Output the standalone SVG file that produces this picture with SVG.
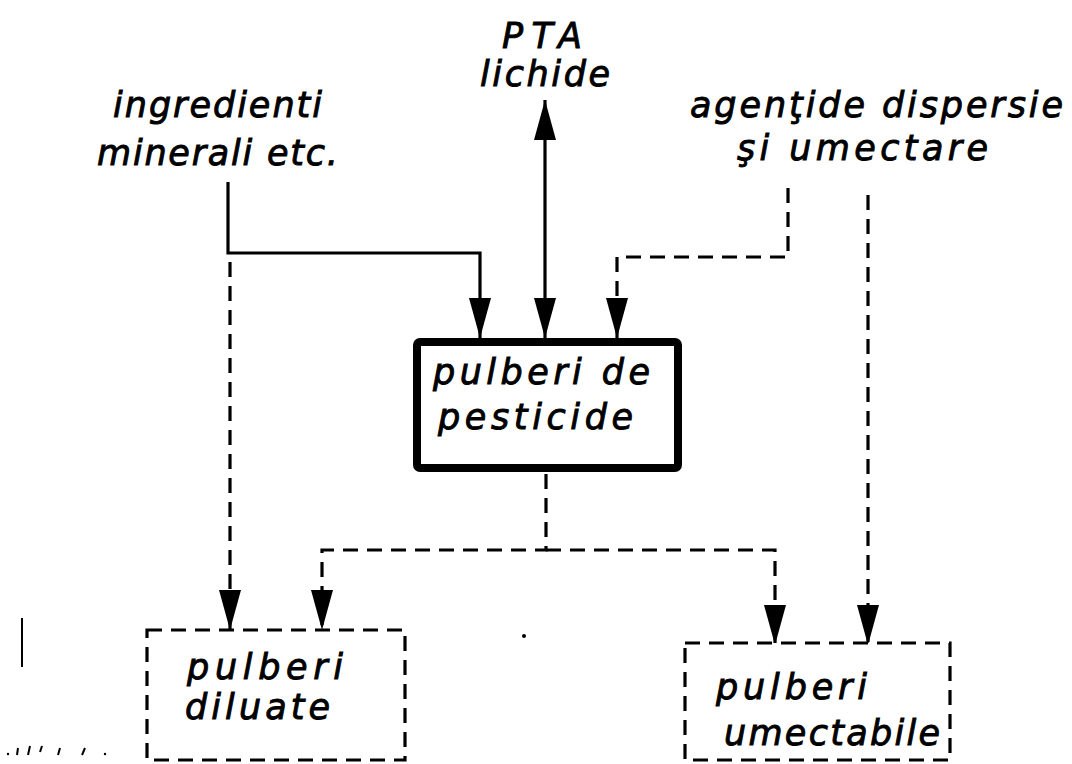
<svg xmlns="http://www.w3.org/2000/svg" width="1072" height="764" viewBox="0 0 1072 764">
<style>
text{font-family:"DejaVu Sans","Liberation Sans",sans-serif;font-style:italic;font-size:35px;fill:#000;stroke:#000;stroke-width:0.9}
.c{fill:none;stroke:#000;stroke-width:3.2;stroke-linejoin:miter}
.d{stroke-dasharray:15 9}
.box{fill:#fff;stroke:#000}
</style>
<defs>
<marker id="ah" markerUnits="userSpaceOnUse" markerWidth="42" markerHeight="24" refX="40" refY="12" orient="auto-start-reverse" viewBox="0 0 42 24">
<path d="M0,1 L40,12 L0,23 Z" fill="#000"/>
</marker>
</defs>
<rect width="1072" height="764" fill="#fff"/>
<g id="connectors">
<path class="c" d="M228,182 V253 H480 V338" marker-end="url(#ah)"/>
<path class="c" d="M545,100 V338" marker-start="url(#ah)" marker-end="url(#ah)"/>
<path class="c d" d="M788,188 V257 H617 V338" marker-end="url(#ah)"/>
<path class="c d" d="M868,195 V645" marker-end="url(#ah)"/>
<path class="c d" d="M230,262 V630" marker-end="url(#ah)"/>
<path class="c d" d="M546,474 V550 H322 V630" marker-end="url(#ah)"/>
<path class="c d" d="M546,550 H775 V645" marker-end="url(#ah)"/>
</g>
<g id="label-pta">
<text x="502" y="48" textLength="80" lengthAdjust="spacing">PTA</text>
<text x="480" y="86" textLength="130" lengthAdjust="spacing">lichide</text>
</g>
<g id="label-ingredienti">
<text x="113" y="117" textLength="209" lengthAdjust="spacing">ingredienti</text>
<text x="97" y="165" textLength="241" lengthAdjust="spacing">minerali etc.</text>
</g>
<g id="label-agenti">
<text x="690" y="117" textLength="373" lengthAdjust="spacing">agenţide dispersie</text>
<text x="737" y="160" textLength="251" lengthAdjust="spacing">şi umectare</text>
</g>
<g id="node-pesticide">
<rect class="box" x="417" y="342" width="261" height="126" stroke-width="8" rx="3"/>
<text x="433" y="384" textLength="217" lengthAdjust="spacing">pulberi de</text>
<text x="438" y="429" textLength="195" lengthAdjust="spacing">pesticide</text>
</g>
<g id="node-diluate">
<rect class="box c d" x="147" y="630" width="258" height="130"/>
<text x="187" y="679" textLength="156" lengthAdjust="spacing">pulberi</text>
<text x="185" y="719" textLength="145" lengthAdjust="spacing">diluate</text>
</g>
<g id="node-umectabile">
<rect class="box c d" x="685" y="643" width="265" height="117"/>
<text x="716" y="699" textLength="151" lengthAdjust="spacing">pulberi</text>
<text x="724" y="745" textLength="216" lengthAdjust="spacing">umectabile</text>
</g>
<g id="marks" stroke="#000" stroke-width="2" fill="#000">
<line x1="22" y1="618" x2="22" y2="667"/>
<circle cx="524" cy="636" r="2" stroke="none"/>
<line x1="18" y1="748" x2="17" y2="755"/>
<line x1="30" y1="746" x2="28" y2="755"/>
<line x1="42" y1="746" x2="40" y2="752"/>
<line x1="60" y1="748" x2="58" y2="755"/>
<line x1="85" y1="748" x2="82" y2="755"/>
<circle cx="8" cy="754" r="1.2" stroke="none"/>
<circle cx="105" cy="754" r="1.2" stroke="none"/>
</g>
</svg>
